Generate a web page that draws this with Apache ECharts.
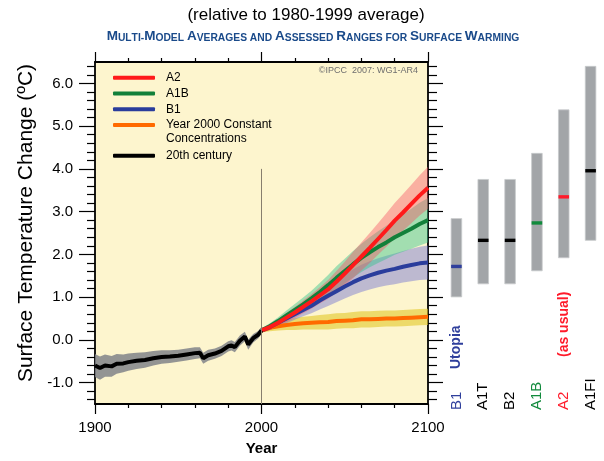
<!DOCTYPE html>
<html>
<head>
<meta charset="utf-8">
<title>Multi-model averages and assessed ranges for surface warming</title>
<script src="https://cdn.jsdelivr.net/npm/echarts@6.0.0/dist/echarts.min.js"></script>
<style>
  html, body { margin: 0; padding: 0; background: #fff; }
  #chart { width: 604px; height: 461px; }
</style>
</head>
<body>
<div id="chart"></div>
<script>
// 20th century observations-driven runs
var histYears  = [1900, 1903, 1906, 1910, 1913, 1917, 1920, 1925, 1930, 1935, 1940, 1945, 1950, 1955, 1960, 1963, 1965, 1968, 1972, 1976, 1980, 1982, 1984, 1987, 1990, 1992, 1995, 1998, 2000];
var histMean   = [-0.60, -0.66, -0.60, -0.62, -0.56, -0.55, -0.52, -0.49, -0.47, -0.43, -0.40, -0.39, -0.37, -0.34, -0.31, -0.30, -0.43, -0.36, -0.32, -0.26, -0.15, -0.13, -0.17, -0.02, 0.08, -0.11, 0.04, 0.12, 0.22];
var histSpread = [0.27, 0.27, 0.26, 0.24, 0.23, 0.21, 0.20, 0.19, 0.18, 0.17, 0.16, 0.15, 0.14, 0.14, 0.14, 0.13, 0.13, 0.13, 0.12, 0.12, 0.12, 0.12, 0.12, 0.12, 0.11, 0.12, 0.10, 0.09, 0.08];

// 21st century projections
var projYears    = [2000, 2005, 2010, 2015, 2020, 2025, 2030, 2035, 2040, 2045, 2050, 2055, 2060, 2065, 2070, 2075, 2080, 2085, 2090, 2095, 2100];
var a2Mean       = [0.22, 0.30, 0.40, 0.52, 0.64, 0.77, 0.90, 1.04, 1.18, 1.36, 1.55, 1.75, 1.95, 2.15, 2.36, 2.57, 2.79, 2.98, 3.18, 3.38, 3.56];
var a2Spread     = [0.05, 0.07, 0.09, 0.11, 0.13, 0.15, 0.17, 0.19, 0.22, 0.25, 0.28, 0.31, 0.33, 0.35, 0.37, 0.39, 0.41, 0.43, 0.45, 0.47, 0.49];
var a1bMean      = [0.22, 0.32, 0.44, 0.57, 0.70, 0.83, 0.97, 1.12, 1.28, 1.45, 1.61, 1.77, 1.92, 2.05, 2.17, 2.28, 2.40, 2.50, 2.60, 2.71, 2.80];
var a1bSpread    = [0.05, 0.07, 0.09, 0.12, 0.14, 0.16, 0.18, 0.21, 0.24, 0.27, 0.29, 0.31, 0.33, 0.35, 0.37, 0.39, 0.41, 0.44, 0.47, 0.50, 0.52];
var b1Mean       = [0.22, 0.30, 0.40, 0.50, 0.60, 0.70, 0.80, 0.92, 1.03, 1.14, 1.25, 1.35, 1.44, 1.51, 1.57, 1.62, 1.66, 1.71, 1.75, 1.79, 1.81];
var b1Spread     = [0.05, 0.07, 0.09, 0.11, 0.13, 0.15, 0.18, 0.21, 0.24, 0.26, 0.28, 0.30, 0.32, 0.33, 0.34, 0.35, 0.36, 0.37, 0.38, 0.39, 0.40];
var commitMean   = [0.22, 0.28, 0.32, 0.35, 0.37, 0.39, 0.40, 0.41, 0.42, 0.44, 0.45, 0.46, 0.48, 0.48, 0.49, 0.50, 0.50, 0.51, 0.52, 0.53, 0.54];
var commitSpread = [0.05, 0.08, 0.10, 0.12, 0.14, 0.15, 0.16, 0.17, 0.18, 0.18, 0.18, 0.19, 0.19, 0.19, 0.19, 0.19, 0.19, 0.19, 0.19, 0.19, 0.19];

// assessed ranges at 2090-2099 (right panel)
var scenarioNames = ['B1', 'A1T', 'B2', 'A1B', 'A2', 'A1FI'];
var scenarioBest  = [1.8, 2.4, 2.4, 2.8, 3.4, 4.0];
var scenarioLow   = [1.1, 1.4, 1.4, 1.7, 2.0, 2.4];
var scenarioHigh  = [2.9, 3.8, 3.8, 4.4, 5.4, 6.4];
var scenarioNotes = ['Utopia', '', '', '', '(as usual)', ''];

var tempTicks = [-1, 0, 1, 2, 3, 4, 5, 6];

var FONT = "'Liberation Sans', Arial, Helvetica, sans-serif";
var scenarioColors = ['#2f3f9c', '#000000', '#000000', '#118a3c', '#ff1a2a', '#000000'];
var noteLift = [41, 0, 0, 0, 53, 0];

function pairs(xs, ys) {
    return xs.map(function (x, i) { return [x, ys[i]]; });
}

function bandSeries(xs, mean, spread, color) {
    var rows = xs.map(function (x, i) { return [x, mean[i] - spread[i], mean[i] + spread[i]]; });
    return {
        type: 'custom', xAxisIndex: 0, yAxisIndex: 0, silent: true, clip: true, z: 1,
        encode: { x: 0, y: [1, 2] },
        data: rows,
        renderItem: function (params, api) {
            if (params.dataIndex !== 0) return;
            var pts = [];
            for (var i = 0; i < rows.length; i++) pts.push(api.coord([rows[i][0], rows[i][2]]));
            for (var j = rows.length - 1; j >= 0; j--) pts.push(api.coord([rows[j][0], rows[j][1]]));
            return { type: 'polygon', shape: { points: pts }, style: { fill: color } };
        }
    };
}

function lineSeries(name, xs, ys, color, z) {
    return {
        name: name, type: 'line', xAxisIndex: 0, yAxisIndex: 0,
        data: pairs(xs, ys), showSymbol: false, symbol: 'none', z: z,
        lineStyle: { color: color, width: 4 }, itemStyle: { color: color }
    };
}

function smallCaps(str) {
    return str.split('').map(function (c) {
        if (c >= 'A' && c <= 'Z') return '{b|' + c + '}';
        return '{s|' + c.toUpperCase() + '}';
    }).join('');
}

var chart = echarts.init(document.getElementById('chart'), null, { renderer: 'canvas' });

var tickStyle = { color: '#000', width: 1.2 };
function axisLine() {
    return { show: true, onZero: false, lineStyle: { color: '#000', width: 1.8 } };
}

function tempAxis(position, majorLen, minorLen, showLabels) {
    return {
        type: 'value', gridIndex: 0, position: position, min: -1.5, max: 6.5, splitNumber: 8,
        axisLine: axisLine(),
        axisTick: { show: true, length: majorLen, customValues: tempTicks, lineStyle: tickStyle },
        minorTick: { show: true, splitNumber: 5, length: minorLen, lineStyle: tickStyle },
        axisLabel: { show: showLabels, customValues: tempTicks, fontSize: 15, color: '#000', margin: 22,
            formatter: function (v) { return v.toFixed(1); } },
        splitLine: { show: false }, minorSplitLine: { show: false }
    };
}

function yearAxis(position, showLabels) {
    return {
        type: 'value', gridIndex: 0, position: position, min: 1900, max: 2100, interval: 100,
        axisLine: axisLine(),
        axisTick: { show: true, length: 10, lineStyle: tickStyle },
        minorTick: { show: true, splitNumber: 5, length: 4, lineStyle: tickStyle },
        axisLabel: { show: showLabels, fontSize: 15, color: '#000', margin: 16,
            formatter: function (v) { return String(v); } },
        splitLine: { show: false }, minorSplitLine: { show: false }
    };
}

var leftAxis = tempAxis('left', 16, 8, true);
leftAxis.name = 'Surface Temperature Change (\u00BAC)';
leftAxis.nameLocation = 'middle';
leftAxis.nameGap = 47;
leftAxis.nameTextStyle = { fontSize: 21, color: '#000', padding: [0, 0, 0, 20] };

var bottomAxis = yearAxis('bottom', true);
bottomAxis.name = 'Year';
bottomAxis.nameLocation = 'middle';
bottomAxis.nameGap = 37;
bottomAxis.nameTextStyle = { fontSize: 15, fontWeight: 'bold', color: '#000' };

var option = {
    animation: false,
    textStyle: { fontFamily: FONT },
    grid: [
        { left: 95, top: 62, width: 333, height: 348, show: true, backgroundColor: '#fdf5ce', borderWidth: 0 },
        { left: 443, top: 62, width: 162, height: 348, show: false }
    ],
    graphic: [
        { type: 'text', x: 306, y: 15, style: { text: '(relative to 1980-1999 average)', font: '17px ' + FONT, fill: '#000', align: 'center', verticalAlign: 'middle' } },
        { type: 'text', x: 313, y: 36, style: {
            text: smallCaps('Multi-Model Averages and Assessed Ranges for Surface Warming'),
            align: 'center', verticalAlign: 'middle', fill: '#1a4a8a',
            rich: {
                b: { fontSize: 13.5, fontWeight: 'bold', fontFamily: FONT, fill: '#1a4a8a', verticalAlign: 'bottom' },
                s: { fontSize: 10.3, fontWeight: 'bold', fontFamily: FONT, fill: '#1a4a8a', verticalAlign: 'bottom' }
            }
        } },
        { type: 'text', x: 418, y: 71, z: 10, style: { text: '\u00A9IPCC  2007: WG1-AR4', font: '9px ' + FONT, fill: '#6e6e6e', align: 'right', verticalAlign: 'middle' } },
        { type: 'text', x: 166, y: 139, z: 10, style: { text: 'Concentrations', font: '12px ' + FONT, fill: '#000', align: 'left', verticalAlign: 'middle' } }
    ],
    legend: [
        {
            left: 113, top: 70, orient: 'vertical', selectedMode: false,
            data: ['A2', 'A1B', 'B1', 'Year 2000 Constant Concentrations'],
            formatter: function (n) { return n === 'Year 2000 Constant Concentrations' ? 'Year 2000 Constant' : n; },
            icon: 'roundRect', itemWidth: 42, itemHeight: 4, itemGap: 0, padding: 0,
            textStyle: { fontSize: 12, lineHeight: 15.7, color: '#000', padding: [0, 0, 0, 6] }
        },
        {
            left: 113, top: 148, orient: 'vertical', selectedMode: false,
            data: ['20th century'],
            icon: 'roundRect', itemWidth: 42, itemHeight: 4, itemGap: 0, padding: 0,
            textStyle: { fontSize: 12, lineHeight: 15.7, color: '#000', padding: [0, 0, 0, 6] }
        }
    ],
    xAxis: [
        bottomAxis,
        yearAxis('top', false),
        { type: 'category', gridIndex: 1, data: scenarioNames, show: false, boundaryGap: true }
    ],
    yAxis: [
        leftAxis,
        tempAxis('right', 15, 9, false),
        { type: 'value', gridIndex: 1, min: -1.5, max: 6.5, show: false }
    ],
    series: [
        bandSeries(histYears, histMean, histSpread, 'rgba(128,131,136,0.85)'),
        bandSeries(projYears, commitMean, commitSpread, 'rgba(226,200,40,0.6)'),
        bandSeries(projYears, b1Mean, b1Spread, 'rgba(110,112,210,0.45)'),
        bandSeries(projYears, a1bMean, a1bSpread, 'rgba(50,195,140,0.45)'),
        bandSeries(projYears, a2Mean, a2Spread, 'rgba(245,80,100,0.42)'),
        {
            type: 'line', xAxisIndex: 0, yAxisIndex: 0, data: [], silent: true, z: 1,
            markLine: {
                silent: true, symbol: 'none', animation: false,
                lineStyle: { color: '#877e6e', width: 1, type: 'solid' },
                label: { show: false },
                data: [[{ coord: [2000, -1.5] }, { coord: [2000, 4.0] }]]
            }
        },
        lineSeries('Year 2000 Constant Concentrations', projYears, commitMean, '#ff6a00', 3),
        lineSeries('B1', projYears, b1Mean, '#2a3d9c', 3),
        lineSeries('A1B', projYears, a1bMean, '#12803a', 3),
        lineSeries('A2', projYears, a2Mean, '#ff1a1a', 4),
        lineSeries('20th century', histYears, histMean, '#000000', 4),
        {
            type: 'custom', xAxisIndex: 2, yAxisIndex: 2, silent: true,
            encode: { x: 0, y: [1, 2, 3] },
            data: scenarioNames.map(function (n, i) { return [i, scenarioLow[i], scenarioHigh[i], scenarioBest[i]]; }),
            renderItem: function (params, api) {
                var idx = params.dataIndex;
                var cx = api.value(0);
                var top = api.coord([cx, api.value(2)]);
                var bot = api.coord([cx, api.value(1)]);
                var mid = api.coord([cx, api.value(3)]);
                var w = 10.6;
                return {
                    type: 'group',
                    children: [
                        { type: 'rect', shape: { x: top[0] - w / 2, y: top[1], width: w, height: bot[1] - top[1] },
                          style: { fill: '#a2a5a8', stroke: '#c8cacc', lineWidth: 0.8 } },
                        { type: 'rect', shape: { x: mid[0] - w / 2, y: mid[1] - 1.7, width: w, height: 3.4 },
                          style: { fill: scenarioColors[idx] } }
                    ]
                };
            }
        },
        {
            type: 'custom', xAxisIndex: 2, yAxisIndex: 2, silent: true,
            data: scenarioNames.map(function (n, i) { return [i, -1.5]; }),
            renderItem: function (params, api) {
                var idx = params.dataIndex;
                var p = api.coord([api.value(0), api.value(1)]);
                var children = [
                    { type: 'text', x: p[0], y: p[1], rotation: Math.PI / 2,
                      style: { text: scenarioNames[idx], font: '15px ' + FONT, fill: scenarioColors[idx], align: 'left', verticalAlign: 'middle' } }
                ];
                if (scenarioNotes[idx]) {
                    children.push({ type: 'text', x: p[0], y: p[1] - noteLift[idx], rotation: Math.PI / 2,
                      style: { text: scenarioNotes[idx], font: 'bold 14px ' + FONT, fill: scenarioColors[idx], align: 'left', verticalAlign: 'middle' } });
                }
                return { type: 'group', children: children };
            }
        }
    ]
};

chart.setOption(option);
</script>
</body>
</html>
